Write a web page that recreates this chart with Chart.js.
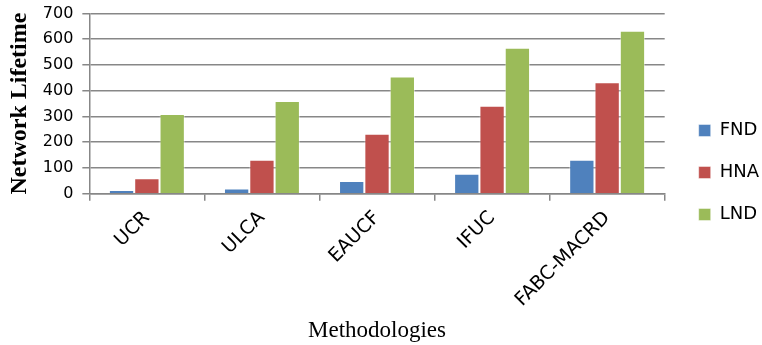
<!DOCTYPE html>
<html>
<head>
<meta charset="utf-8">
<title>Network Lifetime by Methodology</title>
<script src="https://cdn.jsdelivr.net/npm/chart.js@4.4.1/dist/chart.umd.min.js"></script>
<style>
  html, body { margin: 0; padding: 0; background: #ffffff; }
  #wrap { width: 762px; height: 345px; }
</style>
</head>
<body>
<div id="wrap"><canvas id="chart" width="762" height="345"></canvas></div>
<script>
// Categories and series values
const methodologies = ['UCR', 'ULCA', 'EAUCF', 'IFUC', 'FABC-MACRD'];
const fnd = [15, 20, 50, 78, 132];
const hna = [60, 132, 233, 342, 433];
const lnd = [310, 360, 455, 567, 633];
const yTicks = [0, 100, 200, 300, 400, 500, 600, 700];

const gridColor = '#878787';

new Chart(document.getElementById('chart'), {
  type: 'bar',
  data: {
    labels: methodologies,
    datasets: [
      { label: 'FND', data: fnd, backgroundColor: '#4F81BD', borderColor: 'rgba(255,255,255,0.45)', borderWidth: 1 },
      { label: 'HNA', data: hna, backgroundColor: '#C0504D', borderColor: 'rgba(255,255,255,0.45)', borderWidth: 1 },
      { label: 'LND', data: lnd, backgroundColor: '#9BBB59', borderColor: 'rgba(255,255,255,0.45)', borderWidth: 1 }
    ]
  },
  options: {
    responsive: false,
    animation: false,
    layout: { padding: { top: 0, left: 5, right: -7, bottom: 0 } },
    datasets: { bar: { categoryPercentage: 0.66, barPercentage: 1.0 } },
    plugins: {
      legend: {
        position: 'right',
        align: 'center',
        labels: {
          boxWidth: 12,
          boxHeight: 12,
          padding: 24,
          color: '#000000',
          font: { family: 'DejaVu Sans', size: 18 }
        }
      },
      tooltip: { enabled: false }
    },
    scales: {
      x: {
        grid: {
          display: true,
          drawOnChartArea: false,
          drawTicks: true,
          tickLength: 7,
          color: gridColor,
          lineWidth: 1.5
        },
        border: { color: gridColor, width: 1.5 },
        ticks: {
          color: '#000000',
          font: { family: 'DejaVu Sans', size: 19 },
          minRotation: 45,
          maxRotation: 45,
          padding: 6
        },
        title: {
          display: true,
          text: 'Methodologies',
          color: '#000000',
          font: { family: 'Liberation Serif', size: 23 },
          padding: { top: 0, bottom: 0 }
        }
      },
      y: {
        min: 0,
        max: 700,
        afterBuildTicks: (scale) => { scale.ticks = yTicks.map(v => ({ value: v })); },
        grid: {
          color: gridColor,
          lineWidth: 1.5,
          tickLength: 7
        },
        border: { color: gridColor, width: 1.5 },
        ticks: {
          color: '#000000',
          font: { family: 'DejaVu Sans', size: 16, lineHeight: 0.55 },
          padding: 9
        },
        title: {
          display: true,
          text: 'Network Lifetime',
          color: '#000000',
          font: { family: 'Liberation Serif', size: 24, weight: 'bold' },
          padding: { top: 0, bottom: 0 }
        }
      },
      // empty right-hand spacer between the plot and the legend
      gap: {
        position: 'right',
        display: true,
        min: 0,
        max: 700,
        grid: { display: false, drawTicks: false },
        border: { display: false },
        ticks: { display: false },
        afterFit: (scale) => { scale.width = 10; }
      }
    }
  }
});
</script>
</body>
</html>
